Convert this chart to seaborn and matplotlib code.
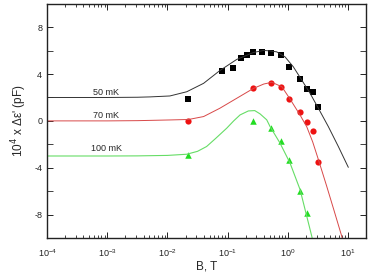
import matplotlib
matplotlib.use("Agg")
import matplotlib.pyplot as plt
import matplotlib.ticker as mticker
import numpy as np
import seaborn as sns

# measured points
b_50 = [0.022, 0.080, 0.124, 0.167, 0.21, 0.26, 0.37, 0.53, 0.78, 1.06, 1.60, 2.08, 2.59, 3.18]
d_50 = [1.85, 4.28, 4.54, 5.39, 5.59, 5.85, 5.90, 5.76, 5.67, 4.62, 3.57, 2.72, 2.50, 1.16]

b_70 = [0.022, 0.26, 0.53, 0.78, 1.06, 1.60, 2.08, 2.59, 3.14]
d_70 = [0.0, 2.78, 3.26, 2.89, 1.85, 0.77, -0.11, -0.85, -3.52]

b_100 = [0.022, 0.26, 0.53, 0.78, 1.05, 1.60, 2.08]
d_100 = [-2.95, 0.03, -0.65, -1.70, -3.32, -6.0, -7.9]

# fitted curves (log10 of B, value)
lb_fit_50 = [-4, -3, -2.5, -2.29, -1.96, -1.68, -1.40, -1.13, -0.85, -0.57, -0.40, -0.30, -0.185,
             -0.047, 0.091, 0.231, 0.369, 0.507, 0.673, 0.84, 1.005]
d_fit_50 = [2.0, 2.0, 2.02, 2.05, 2.13, 2.49, 3.21, 4.3, 5.25, 5.85, 6.02, 5.98, 5.9,
            5.47, 4.62, 3.49, 2.36, 1.08, -0.49, -2.2, -3.97]

lb_fit_70 = [-4, -3, -2.5, -1.96, -1.65, -1.40, -1.13, -0.85, -0.57, -0.40, -0.267, -0.10, 0.036,
             0.203, 0.314, 0.413, 0.507, 0.646, 0.77, 0.895, 0.92]
d_fit_70 = [0.0, 0.0, 0.02, 0.08, 0.12, 0.37, 1.08, 1.93, 2.78, 3.15, 3.3, 2.92, 1.87,
            0.5, -0.5, -1.8, -3.3, -5.59, -7.7, -9.85, -10.4]

lb_fit_100 = [-4, -3, -2.5, -2.0, -1.68, -1.5, -1.35, -1.2, -1.015, -0.9, -0.794, -0.656, -0.55,
              -0.462, -0.351, -0.296, -0.13, 0.036, 0.203, 0.397, 0.42]
d_fit_100 = [-3.0, -3.0, -2.99, -2.95, -2.85, -2.6, -2.19, -1.5, -0.62, 0.0, 0.51, 0.85, 0.88,
             0.6, 0.09, -0.48, -1.90, -3.60, -5.87, -9.85, -10.4]

sns.set_style("ticks")
plt.rcParams['font.family'] = ['Liberation Sans', 'DejaVu Sans']

fig = plt.figure(figsize=(3.74, 2.76), dpi=100)
ax = fig.add_axes([0.126, 0.138, 0.853, 0.848])

sns.lineplot(x=10 ** np.array(lb_fit_50), y=d_fit_50, color="#333333", lw=0.7, ax=ax, sort=False)
sns.lineplot(x=10 ** np.array(lb_fit_70), y=d_fit_70, color="#d84848", lw=0.7, ax=ax, sort=False)
sns.lineplot(x=10 ** np.array(lb_fit_100), y=d_fit_100, color="#66dd66", lw=0.8, ax=ax, sort=False)

sns.scatterplot(x=b_50, y=d_50, marker="s", color="black", s=14, linewidth=0, ax=ax)
sns.scatterplot(x=b_70, y=d_70, marker="o", color="#ee1111", s=20, linewidth=0, ax=ax)
sns.scatterplot(x=b_100, y=d_100, marker="^", color="#22dd22", s=22, linewidth=0, ax=ax)

ax.set_xscale("log")
ax.set_xlim(1e-4, 20)
ax.set_ylim(-10, 10)
ax.set_xticks([1e-4, 1e-3, 1e-2, 1e-1, 1e0, 1e1])
ax.xaxis.set_minor_locator(mticker.LogLocator(base=10, subs=np.arange(2, 10), numticks=20))
ax.xaxis.set_minor_formatter(mticker.NullFormatter())
ax.set_yticks([-8, -4, 0, 4, 8])
ax.set_yticklabels(["-8", "-4", "0", "4", "8"])
ax.yaxis.set_minor_locator(mticker.MultipleLocator(2))

ax.tick_params(which="both", direction="in", top=True, right=True, labelsize=6.5, colors="#222222")
ax.tick_params(which="major", length=4, width=0.7)
ax.tick_params(which="minor", length=2.5, width=0.6)
ax.tick_params(axis="y", which="minor", length=4)
ax.tick_params(axis="x", which="major", pad=7)
for s in ax.spines.values():
    s.set_linewidth(1.0)
    s.set_color("#222222")

ax.text(9.6e-4, 2.45, "50 mK", fontsize=6.5, ha="center", va="center")
ax.text(9.6e-4, 0.5, "70 mK", fontsize=6.5, ha="center", va="center")
ax.text(9.8e-4, -2.4, "100 mK", fontsize=6.5, ha="center", va="center")

ax.set_xlabel("B, T", fontsize=8.5, labelpad=1)
ax.set_ylabel("10$^4$ x Δε' (pF)", fontsize=8.5, labelpad=4)

fig.savefig("out.png", dpi=100)
